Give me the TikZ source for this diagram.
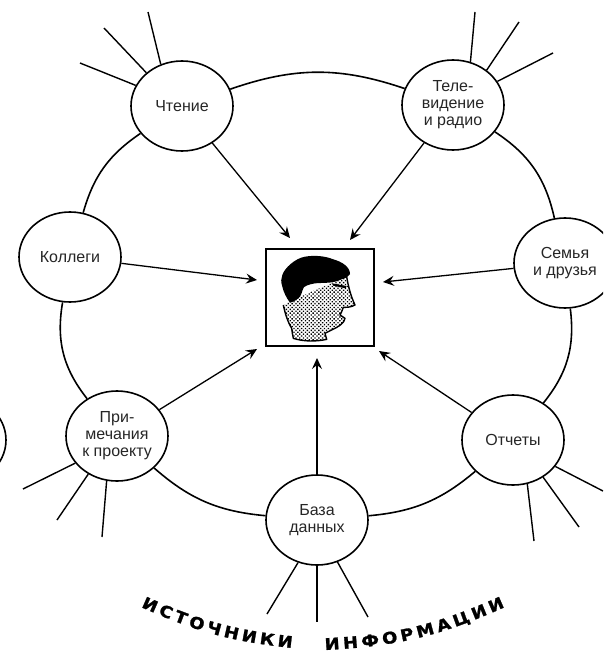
\documentclass[tikz,border=0pt]{standalone}
\usepackage{fontspec}
\setmainfont{Liberation Sans}
\newfontfamily\titlefont[FakeStretch=1.12,FakeBold=1.5]{DejaVu Sans Bold}
\usetikzlibrary{shapes.geometric,arrows.meta,patterns.meta,decorations.text}
\tikzset{
  src/.style={ellipse,draw,fill=white,line width=1.6pt,minimum width=102pt,minimum height=90pt,inner sep=0pt,align=center,font=\fontsize{16}{17}\selectfont,text=black!85},
  ringline/.style={line width=1.6pt},
  spoke/.style={line width=1.4pt},
  arrowline/.style={line width=1.3pt,-{Stealth[length=11pt,width=10pt,inset=4pt]}},
  titletext/.style={decorate,decoration={text along path,text align={fit to path},raise=0pt}},
}
\begin{document}
\begin{tikzpicture}[x=1pt,y=-1pt]
\useasboundingbox (0,0) rectangle (603,653);
\clip (0,0) rectangle (603,653);
% nodes
\node[src] (cht) at (182,106) {Чтение};
\node[src] (tv) at (453,105) {Теле-\\видение\\и радио};
\node[src] (sem) at (565,263) {Семья\\и друзья};
\node[src] (rep) at (513,440) {Отчеты};
\node[src] (db) at (317,520) {База\\данных};
\node[src] (prim) at (117,436) {При-\\мечания\\к проекту};
\node[src] (kol) at (70,257) {Коллеги};
\node[src] (off) at (-45,440) {};
\node[draw,line width=2.4pt,minimum width=108pt,minimum height=97pt,inner sep=0pt] (box) at (320,297.5) {};
% ring
\draw[ringline] (cht) to[bend left=19] (tv);
\draw[ringline] (tv) to[bend left=22] (sem);
\draw[ringline] (sem) to[bend left=23] (rep);
\draw[ringline] (rep) to[bend left=17.5] (db);
\draw[ringline] (db) to[bend left=18] (prim);
\draw[ringline] (prim) to[bend left=24] (kol);
\draw[ringline] (kol) to[bend left=20] (cht);
% arrow tips
\coordinate (t1) at (290,238);
\coordinate (t2) at (350,240);
\coordinate (t3) at (383,282);
\coordinate (t4) at (379,351);
\coordinate (t5) at (317,358);
\coordinate (t6) at (257,349);
\coordinate (t7) at (257,280);
\draw[arrowline] (cht) -- (t1);
\draw[arrowline] (tv) -- (t2);
\draw[arrowline] (sem) -- (t3);
\draw[arrowline] (rep) -- (t4);
\draw[arrowline] (db) -- (t5);
\draw[arrowline] (prim) -- (t6);
\draw[arrowline] (kol) -- (t7);
% spokes
\coordinate (a1) at (148,12); \coordinate (a2) at (104,28); \coordinate (a3) at (80,63);
\draw[spoke] (cht.117) -- (a1); \draw[spoke] (cht.137) -- (a2); \draw[spoke] (cht.156) -- (a3);
\coordinate (b1) at (475,12); \coordinate (b2) at (519,22); \coordinate (b3) at (553,53);
\draw[spoke] (tv.68) -- (b1); \draw[spoke] (tv.46) -- (b2); \draw[spoke] (tv.28) -- (b3);
\coordinate (c1) at (534,541); \coordinate (c2) at (579,527); \coordinate (c3) at (603,491);
\draw[spoke] (rep.288) -- (c1); \draw[spoke] (rep.309) -- (c2); \draw[spoke] (rep.328) -- (c3);
\coordinate (d1) at (267,614); \coordinate (d2) at (317,622); \coordinate (d3) at (368,617);
\draw[spoke] (db.246) -- (d1); \draw[spoke] (db.270) -- (d2); \draw[spoke] (db.296) -- (d3);
\coordinate (e1) at (23,489); \coordinate (e2) at (57,520); \coordinate (e3) at (102,537);
\draw[spoke] (prim.213) -- (e1); \draw[spoke] (prim.233) -- (e2); \draw[spoke] (prim.257) -- (e3);
% head
\begin{scope}[x=0.33333pt,y=-0.33333pt,shift={(275pt,-250pt)}]
\path[pattern={Dots[distance=2.7pt,radius=0.95pt,angle=45]},pattern color=black]
  (215,80) .. controls (220,110) and (228,140) .. (240,165)
  .. controls (228,172) and (215,172) .. (205,172)
  -- (200,185) -- (195,195) -- (210,205)
  .. controls (208,218) and (195,228) .. (170,240)
  -- (150,250) -- (155,268)
  .. controls (125,275) and (85,275) .. (55,265)
  .. controls (52,255) and (52,245) .. (50,235)
  .. controls (38,215) and (30,190) .. (25,165)
  -- (45,155) -- (75,140) -- (215,80) -- cycle;
\draw[line width=1.4pt,line join=round]
  (215,80) .. controls (220,110) and (228,140) .. (240,165)
  .. controls (228,172) and (215,172) .. (205,172)
  -- (200,185) -- (195,195) -- (210,205)
  .. controls (208,218) and (195,228) .. (170,240)
  -- (150,250) -- (155,268)
  .. controls (125,275) and (85,275) .. (55,265)
  .. controls (52,255) and (52,245) .. (50,235)
  .. controls (38,215) and (30,190) .. (25,165);
\fill (90,20) .. controls (120,15) and (150,18) .. (175,28)
  .. controls (200,35) and (225,50) .. (225,72)
  -- (215,82)
  .. controls (200,88) and (190,92) .. (180,95)
  .. controls (160,100) and (140,98) .. (120,100)
  .. controls (100,103) and (85,110) .. (85,115)
  .. controls (80,125) and (80,135) .. (75,140)
  .. controls (65,150) and (55,155) .. (45,158)
  .. controls (35,145) and (25,125) .. (22,110)
  .. controls (17,95) and (18,85) .. (22,75)
  .. controls (28,55) and (60,25) .. (90,20) -- cycle;
\fill (170,100) -- (215,108) -- (212,115) -- (175,107) -- cycle;
\end{scope}
% title
\coordinate (w1a) at (141,607); \coordinate (w1b) at (292,648);
\coordinate (w2a) at (325,650); \coordinate (w2b) at (505,607);
\path[titletext,decoration={text={|\titlefont\fontsize{16}{16}\selectfont|ИСТОЧНИКИ}}] (w1a) to[bend right=9] (w1b);
\path[titletext,decoration={text={|\titlefont\fontsize{16}{16}\selectfont|ИНФОРМАЦИИ}}] (w2a) to[bend right=10.5] (w2b);
\end{tikzpicture}
\end{document}
